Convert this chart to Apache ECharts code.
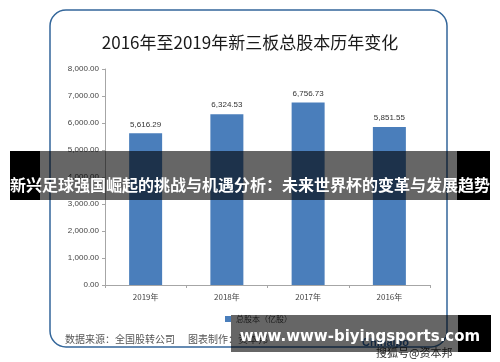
<!DOCTYPE html>
<html>
<head>
<meta charset="utf-8">
<script src="https://cdn.jsdelivr.net/npm/echarts@6/dist/echarts.min.js"></script>
<style>
html,body{margin:0;padding:0;background:#fff;}
#c{width:500px;height:362px;}
</style>
</head>
<body>
<div id="c"></div>
<script>
const titleText = '2016年至2019年新三板总股本历年变化';
const categories = ['2019年', '2018年', '2017年', '2016年'];
const values = [5616.29, 6324.53, 6756.73, 5851.55];
const seriesName = '总股本（亿股）';
const yMin = 0, yMax = 8000, yStep = 1000;
const sourceText = '数据来源：全国股转公司';
const makerText = '图表制作：资本邦';
const bannerText = '新兴足球强国崛起的挑战与机遇分析：未来世界杯的变革与发展趋势';
const urlText = 'www.www-biyingsports.com';

const fmt = v => Number(v).toLocaleString('en-US', {minimumFractionDigits: 2, maximumFractionDigits: 2});
const cjk = '"Microsoft YaHei","Noto Sans CJK SC",sans-serif';

const chart = echarts.init(document.getElementById('c'), null, {renderer: 'canvas'});
chart.setOption({
  animation: false,
  backgroundColor: '#fff',
  title: {
    text: titleText, left: 'center', top: 29,
    textStyle: {fontFamily: cjk, fontSize: 17, fontWeight: 'normal', color: '#1a1a1a'}
  },
  grid: {left: 105, right: 70, top: 69, bottom: 77, containLabel: false},
  legend: {
    data: [seriesName], left: 220, top: 310, itemWidth: 6, itemHeight: 6, itemGap: 4,
    icon: 'rect',
    textStyle: {fontFamily: cjk, fontSize: 8, color: '#444'}
  },
  xAxis: {
    type: 'category', data: categories,
    axisLine: {lineStyle: {color: '#a6a6a6', width: 1}},
    axisTick: {show: true, length: 3, lineStyle: {color: '#a6a6a6'}},
    axisLabel: {fontFamily: cjk, fontSize: 8, color: '#444', margin: 8}
  },
  yAxis: {
    type: 'value', min: yMin, max: yMax, interval: yStep,
    axisLine: {show: true, lineStyle: {color: '#a6a6a6', width: 1}},
    axisTick: {show: true, length: 3, lineStyle: {color: '#a6a6a6'}},
    splitLine: {show: false},
    axisLabel: {fontFamily: 'sans-serif', fontSize: 8, color: '#444', margin: 6, formatter: fmt}
  },
  series: [{
    name: seriesName, type: 'bar', data: values, barWidth: 33,
    itemStyle: {color: '#4a7ebb'},
    label: {show: true, position: 'top', distance: 5, fontSize: 8, color: '#333', formatter: p => fmt(p.value)}
  }],
  graphic: [
    {type: 'rect', z: 50, shape: {x: 50, y: 10, width: 397, height: 337, r: 16},
     style: {fill: 'none', stroke: '#33669a', lineWidth: 1.5}},
    {type: 'text', z: 50, x: 65, y: 339, style: {text: sourceText, fontFamily: cjk, fontSize: 10, fill: '#555', verticalAlign: 'middle'}},
    {type: 'text', z: 50, x: 188, y: 339, style: {text: makerText, fontFamily: cjk, fontSize: 10, fill: '#555', verticalAlign: 'middle'}},
    {type: 'text', z: 50, x: 362, y: 343, style: {text: 'Chinaipo', fontFamily: 'sans-serif', fontWeight: 'bold', fontSize: 11, fill: '#2b5f9e', verticalAlign: 'middle'}},
    {type: 'text', z: 50, x: 376, y: 353, style: {text: '搜狐号@资本邦', fontFamily: cjk, fontSize: 11, fill: '#333', verticalAlign: 'middle'}},
    // top banner
    {type: 'rect', z: 100, shape: {x: 10, y: 151, width: 30, height: 49}, style: {fill: '#000'}},
    {type: 'rect', z: 100, shape: {x: 457, y: 151, width: 33, height: 49}, style: {fill: '#000'}},
    {type: 'rect', z: 100, shape: {x: 40, y: 151, width: 417, height: 49}, style: {fill: 'rgba(0,0,0,0.6)'}},
    {type: 'text', z: 101, x: 250, y: 185, style: {text: bannerText, fontFamily: cjk, fontWeight: 'bold', fontSize: 16, fill: '#fff', align: 'center', verticalAlign: 'middle'}},
    // bottom banner
    {type: 'rect', z: 100, shape: {x: 458, y: 315, width: 33, height: 37}, style: {fill: '#000'}},
    {type: 'rect', z: 100, shape: {x: 231, y: 315, width: 227, height: 37}, style: {fill: 'rgba(0,0,0,0.6)'}},
    {type: 'text', z: 101, x: 360, y: 337, style: {text: urlText, fontFamily: '"DejaVu Sans",sans-serif', fontWeight: 'bold', fontSize: 15, fill: '#fff', align: 'center', verticalAlign: 'middle'}}
  ]
});
</script>
</body>
</html>
